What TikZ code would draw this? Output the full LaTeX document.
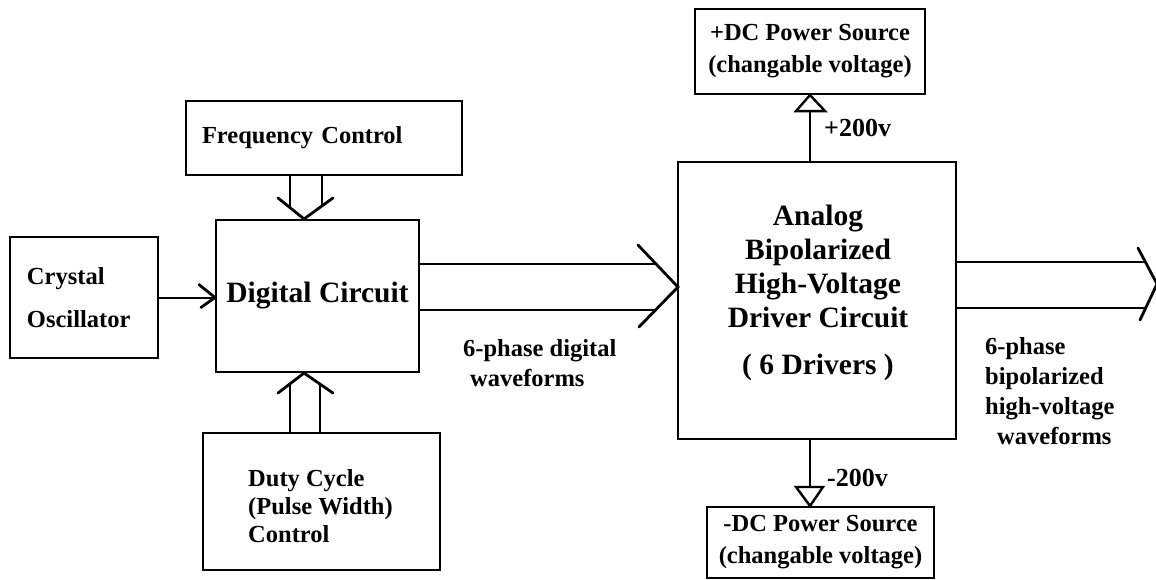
\documentclass[tikz,border=0pt]{standalone}
\usepackage{fontspec}
\setmainfont{Liberation Serif}
\usetikzlibrary{arrows.meta,calc}
\begin{document}
\begin{tikzpicture}[x=1pt,y=-1pt,
  box/.style={draw,line width=2.1pt,inner sep=0pt},
  lbl/.style={font=\fontsize{24.5}{30}\selectfont\bfseries},
  pwr/.style={font=\fontsize{24.5}{32}\selectfont\bfseries},
  volt/.style={font=\fontsize{26}{30}\selectfont\bfseries},
  big/.style={font=\fontsize{29.5}{34}\selectfont\bfseries},
  wire/.style={line width=2pt},
  head/.style={line width=2.8pt,line cap=round,line join=miter},
  tri/.style={line width=2.4pt,line join=miter}]
\useasboundingbox (0,0) rectangle (1156,579);
\fill[white] (0,0) rectangle (1156,579);

% boxes
\node[box,minimum width=148pt,minimum height=121pt,text width=114pt,inner xsep=17pt,align=left,lbl] (crystal) at (84,297.5) {Crystal\\[13pt]Oscillator};
\node[box,minimum width=203pt,minimum height=152pt,big] (digital) at (317.5,296) {Digital Circuit};
\node[box,minimum width=276pt,minimum height=74pt,text width=244pt,inner xsep=16pt,align=left,lbl] (freq) at (324,138) {Frequency Control};
\node[box,minimum width=237pt,minimum height=137pt] (duty) at (321.5,501.5) {};
\node[font=\fontsize{24.5}{28}\selectfont\bfseries,align=left,anchor=west,inner sep=0pt] (dutytxt) at (248,506) {Duty Cycle\\(Pulse Width)\\Control};
\node[box,minimum width=278pt,minimum height=277pt] (analog) at (817,300.5) {};
\node[big,align=center,inner sep=0pt] (analogtxt) at (818,293) {Analog\\Bipolarized\\High-Voltage\\Driver Circuit\\[13pt]( 6 Drivers )};
\node[box,minimum width=230pt,minimum height=85pt,pwr,align=center] (pdc) at (810,51.5) {+DC Power Source\\(changable voltage)};
\node[box,minimum width=227pt,minimum height=71pt,pwr,align=center] (ndc) at (820.5,542.5) {-DC Power Source\\(changable voltage)};

% crystal -> digital
\coordinate (ct) at (digital.west |- crystal.east);
\draw[wire] (crystal.east) -- (ct);
\draw[head] ($(ct)+(-16,-13)$) -- (ct) -- ++(-14,10);

% frequency control -> digital (double line)
\coordinate (ft) at ($(digital.north)+(-13.5,0)$);
\coordinate (fl) at ($(ft)+(-14,-12)$);
\coordinate (fr) at ($(ft)+(18,-13)$);
\draw[wire] (fl |- freq.south) -- (fl);
\draw[wire] (fr |- freq.south) -- (fr);
\draw[head] ($(ft)+(-26,-21)$) -- (ft) -- ++(29,-21);

% duty cycle -> digital (double line)
\coordinate (dt) at ($(digital.south)+(-13.5,0)$);
\coordinate (dl) at ($(dt)+(-14,11)$);
\coordinate (dr) at ($(dt)+(16,11)$);
\draw[wire] (dl |- duty.north) -- (dl);
\draw[wire] (dr |- duty.north) -- (dr);
\draw[head] ($(dt)+(-26,20)$) -- (dt) -- ++(29,20);

% digital -> analog (double line)
\coordinate (at) at ($(analog.west)+(1,-13.5)$);
\coordinate (au) at ($(at)+(-22,-23)$);
\coordinate (ad) at ($(at)+(-22,23)$);
\draw[wire] (digital.east |- au) -- (au);
\draw[wire] (digital.east |- ad) -- (ad);
\draw[head] ($(at)+(-40,-42)$) -- (at) -- ++(-39,40);

% analog -> output (double line)
\coordinate (ot) at (1157,284);
\coordinate (ou) at ($(ot)+(-12,-22)$);
\coordinate (od) at ($(ot)+(-11,24)$);
\draw[wire] (analog.east |- ou) -- (ou);
\draw[wire] (analog.east |- od) -- (od);
\draw[head] ($(ot)+(-19,-36)$) -- (ot) -- ++(-17,36);

% power supplies
\coordinate (pt) at (pdc.south);
\coordinate (pb) at ($(pt)+(0,16)$);
\draw[wire] (analog.north -| pt) -- (pb);
\draw[tri] ($(pb)+(-14,0)$) -- (pt) -- ($(pb)+(15,0)$) -- cycle;
\coordinate (nt) at (ndc.north -| pt);
\coordinate (nb) at ($(nt)+(0,-19)$);
\draw[wire] (analog.south -| pt) -- (nb);
\draw[tri] ($(nb)+(-14,0)$) -- (nt) -- ($(nb)+(13,0)$) -- cycle;
\node[volt,anchor=west,inner sep=0pt] (p200) at (824,128) {+200v};
\node[volt,anchor=west,inner sep=0pt] (n200) at (827,478) {-200v};

% labels
\node[lbl,anchor=west,align=left,inner sep=0pt] (dlabel) at (463,363) {6-phase digital\\\hspace*{7pt}waveforms};
\node[lbl,anchor=west,align=left,inner sep=0pt] (olabel) at (985,391) {6-phase\\bipolarized\\high-voltage\\\hspace*{12pt}waveforms};
\end{tikzpicture}
\end{document}
